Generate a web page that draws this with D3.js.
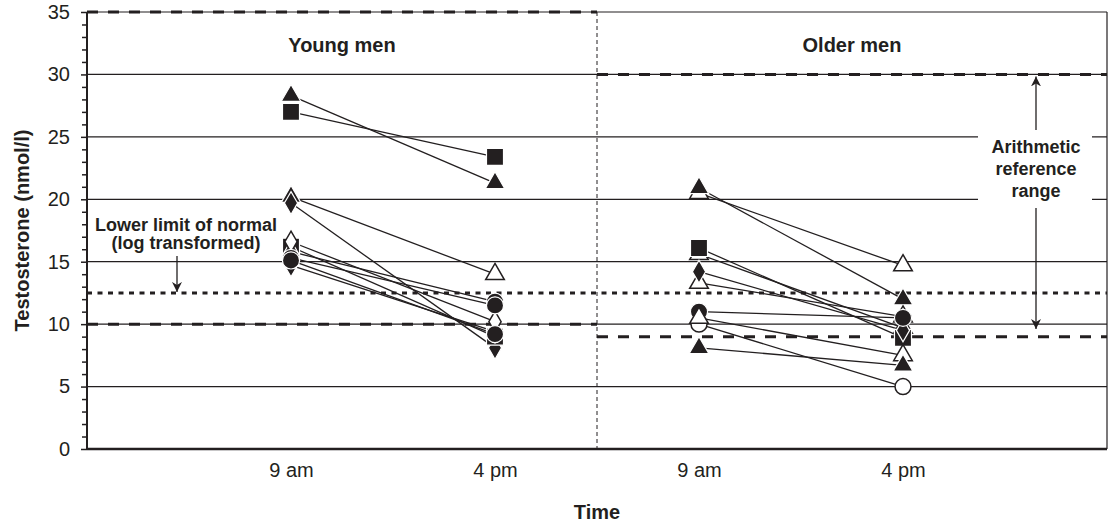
<!DOCTYPE html>
<html>
<head>
<meta charset="utf-8">
<script src="https://cdn.jsdelivr.net/npm/d3@7"></script>
<style>
  body { margin: 0; background: #fff; }
  svg text { font-family: "Liberation Sans", Arial, sans-serif; fill: #231f20; }
</style>
</head>
<body>
<div id="chart"></div>
<script>
// ---- data ----
const groups = ["Young men", "Older men"];
const tickPos = [2, 4, 6, 8];
const tickLabels = ["9 am", "4 pm", "9 am", "4 pm"];
const yTicks = [0, 5, 10, 15, 20, 25, 30, 35];

// young men: value at 9 am / 4 pm, marker at 9 am / 4 pm
const young9am = [28.3, 27.0, 20.2, 19.7, 16.2, 14.7, 15.8, 16.6, 15.3, 15.1];
const young4pm = [21.3, 23.4, 14.0, 8.1, 9.0, 9.4, 11.8, 10.2, 11.5, 9.2];
const youngMark9 = ["tri", "sq", "tri", "dia", "sq", "dia", "tri", "odia", "cir", "cir"];
const youngMark4 = ["tri", "sq", "otri", "dia", "sq", "dia", "cir", "odia", "cir", "cir"];

// older men
const older9am = [20.5, 20.9, 15.6, 16.1, 13.3, 14.2, 10.0, 11.0, 10.5, 8.1];
const older4pm = [14.7, 12.0, 9.7, 8.9, 10.6, 9.5, 5.0, 10.5, 7.5, 6.7];
const olderMark9 = ["otri", "tri", "otri", "sq", "otri", "dia", "ocir", "cir", "otri", "tri"];
const olderMark4 = ["otri", "tri", "otri", "sq", "otri", "dia", "ocir", "cir", "otri", "tri"];

// reference lines
const refLines = [
  { v: 35, x0: 0, x1: 5, style: "dash" },
  { v: 10, x0: 0, x1: 5, style: "dash" },
  { v: 30, x0: 5, x1: 10, style: "dash" },
  { v: 9, x0: 5, x1: 10, style: "dash" },
  { v: 12.5, x0: 0, x1: 10, style: "dot" }
];

// ---- layout ----
const width = 1110, height = 526;
const margin = { top: 12, right: 3, bottom: 77, left: 87 };
const innerWidth = width - margin.left - margin.right;
const innerHeight = height - margin.top - margin.bottom;

const svg = d3.select("#chart").append("svg")
  .attr("width", width)
  .attr("height", height);

const chart = svg.append("g")
  .attr("transform", `translate(${margin.left}, ${margin.top})`);

const x = d3.scaleLinear().domain([0, 10]).range([0, innerWidth]);
const y = d3.scaleLinear().domain([0, 35]).range([innerHeight, 0]);

const ink = "#231f20";

// grid lines
chart.append("g").selectAll("line")
  .data(yTicks.filter(d => d > 0))
  .enter().append("line")
  .attr("x1", 0).attr("x2", innerWidth)
  .attr("y1", d => y(d)).attr("y2", d => y(d))
  .attr("stroke", ink).attr("stroke-width", 1.2);

// right border
chart.append("line")
  .attr("x1", innerWidth).attr("x2", innerWidth)
  .attr("y1", 0).attr("y2", innerHeight)
  .attr("stroke", ink).attr("stroke-width", 1.2);

// divider
chart.append("line")
  .attr("x1", x(5)).attr("x2", x(5))
  .attr("y1", 0).attr("y2", innerHeight)
  .attr("stroke", ink).attr("stroke-width", 1)
  .attr("stroke-dasharray", "4,3");

// reference lines
chart.append("g").selectAll("line")
  .data(refLines)
  .enter().append("line")
  .attr("x1", d => x(d.x0)).attr("x2", d => x(d.x1))
  .attr("y1", d => y(d.v)).attr("y2", d => y(d.v))
  .attr("stroke", ink).attr("stroke-width", 3)
  .attr("stroke-dasharray", d => d.style === "dash" ? "11,10" : "5,5.5");

// axes
const yAxisG = chart.append("g")
  .call(d3.axisLeft(y).tickValues(yTicks).tickSize(6).tickPadding(11));
const yMinor = chart.append("g")
  .call(d3.axisLeft(y).tickValues(d3.range(0, 36, 1).filter(d => d % 5 !== 0)).tickSize(5).tickFormat(""));
[yAxisG, yMinor].forEach(g => {
  g.select(".domain").attr("stroke", ink).attr("stroke-width", 2).attr("d", `M0,0V${innerHeight}`);
  g.selectAll(".tick line").attr("stroke", ink).attr("stroke-width", 1.5);
});
yAxisG.selectAll("text").attr("font-size", "20px").attr("fill", ink);

const xAxisG = chart.append("g")
  .attr("transform", `translate(0, ${innerHeight})`)
  .call(d3.axisBottom(x).tickValues(tickPos).tickSize(0).tickPadding(14)
    .tickFormat((d, i) => tickLabels[i]));
xAxisG.select(".domain").attr("stroke", ink).attr("stroke-width", 2.5).attr("d", `M0,0H${innerWidth}`);
xAxisG.selectAll("text").attr("font-size", "20px").attr("fill", ink);

// axis titles
svg.append("text")
  .attr("transform", `translate(29, ${margin.top + innerHeight / 2}) rotate(-90)`)
  .attr("text-anchor", "middle")
  .attr("font-size", "20px").attr("font-weight", "bold")
  .text("Testosterone (nmol/l)");

svg.append("text")
  .attr("x", margin.left + innerWidth / 2).attr("y", 519)
  .attr("text-anchor", "middle")
  .attr("font-size", "20px").attr("font-weight", "bold")
  .text("Time");

// group titles
chart.append("g").selectAll("text")
  .data(groups)
  .enter().append("text")
  .attr("x", (d, i) => x(2.5 + i * 5))
  .attr("y", 40)
  .attr("text-anchor", "middle")
  .attr("font-size", "20px").attr("font-weight", "bold")
  .text(d => d);

// ---- subjects ----
function subjects(v9, v4, m9, m4, x9, x4) {
  return v9.map((d, i) => ({ a: [x9, d, m9[i]], b: [x4, v4[i], m4[i]] }));
}
const subj = subjects(young9am, young4pm, youngMark9, youngMark4, tickPos[0], tickPos[1])
  .concat(subjects(older9am, older4pm, olderMark9, olderMark4, tickPos[2], tickPos[3]));

chart.append("g").selectAll("line")
  .data(subj)
  .enter().append("line")
  .attr("x1", d => x(d.a[0])).attr("y1", d => y(d.a[1]))
  .attr("x2", d => x(d.b[0])).attr("y2", d => y(d.b[1]))
  .attr("stroke", ink).attr("stroke-width", 1.3);

const symType = { tri: d3.symbolTriangle, otri: d3.symbolTriangle, sq: d3.symbolSquare,
  dia: d3.symbolDiamond, odia: d3.symbolDiamond, cir: d3.symbolCircle, ocir: d3.symbolCircle };
const symSize = { tri: 165, otri: 150, sq: 290, dia: 150, odia: 130, cir: 230, ocir: 200 };

const points = subj.flatMap(d => [d.a, d.b]);
chart.append("g").selectAll("path")
  .data(points)
  .enter().append("path")
  .attr("transform", d => `translate(${x(d[0])}, ${y(d[1])})`)
  .attr("d", d => d3.symbol().type(symType[d[2]]).size(symSize[d[2]])())
  .attr("fill", d => d[2].startsWith("o") ? "#fff" : ink)
  .attr("stroke", d => d[2].startsWith("o") ? ink : "#fff")
  .attr("stroke-width", d => d[2].startsWith("o") ? 1.5 : 1.2);

// ---- annotations ----
svg.append("defs").append("marker")
  .attr("id", "arrow").attr("viewBox", "0 0 10 10")
  .attr("refX", 10).attr("refY", 5)
  .attr("markerWidth", 10).attr("markerHeight", 10)
  .attr("markerUnits", "userSpaceOnUse")
  .attr("orient", "auto")
  .append("path").attr("d", "M0,0L10,5L0,10L3,5Z").attr("fill", ink);

const lowText = chart.append("text")
  .attr("text-anchor", "middle")
  .attr("font-size", "18px").attr("font-weight", "bold");
lowText.append("tspan").attr("x", 99).attr("y", 219).text("Lower limit of normal");
lowText.append("tspan").attr("x", 99).attr("y", 237).text("(log transformed)");
chart.append("line")
  .attr("x1", 90).attr("x2", 90)
  .attr("y1", 244).attr("y2", y(12.5) - 1)
  .attr("stroke", ink).attr("stroke-width", 1.3)
  .attr("marker-end", "url(#arrow)");

// arithmetic reference range
const arX = 949;
chart.append("rect")
  .attr("x", 891).attr("y", 118)
  .attr("width", 114).attr("height", 84)
  .attr("fill", "#fff");
const arText = chart.append("text")
  .attr("text-anchor", "middle")
  .attr("font-size", "18px").attr("font-weight", "bold");
["Arithmetic", "reference", "range"].forEach((t, i) => {
  arText.append("tspan").attr("x", arX).attr("y", 141 + i * 22).text(t);
});
chart.append("line")
  .attr("x1", arX).attr("x2", arX)
  .attr("y1", 118).attr("y2", y(30) + 2)
  .attr("stroke", ink).attr("stroke-width", 1.3)
  .attr("marker-end", "url(#arrow)");
chart.append("line")
  .attr("x1", arX).attr("x2", arX)
  .attr("y1", 196).attr("y2", 317)
  .attr("stroke", ink).attr("stroke-width", 1.3)
  .attr("marker-end", "url(#arrow)");
</script>
</body>
</html>
